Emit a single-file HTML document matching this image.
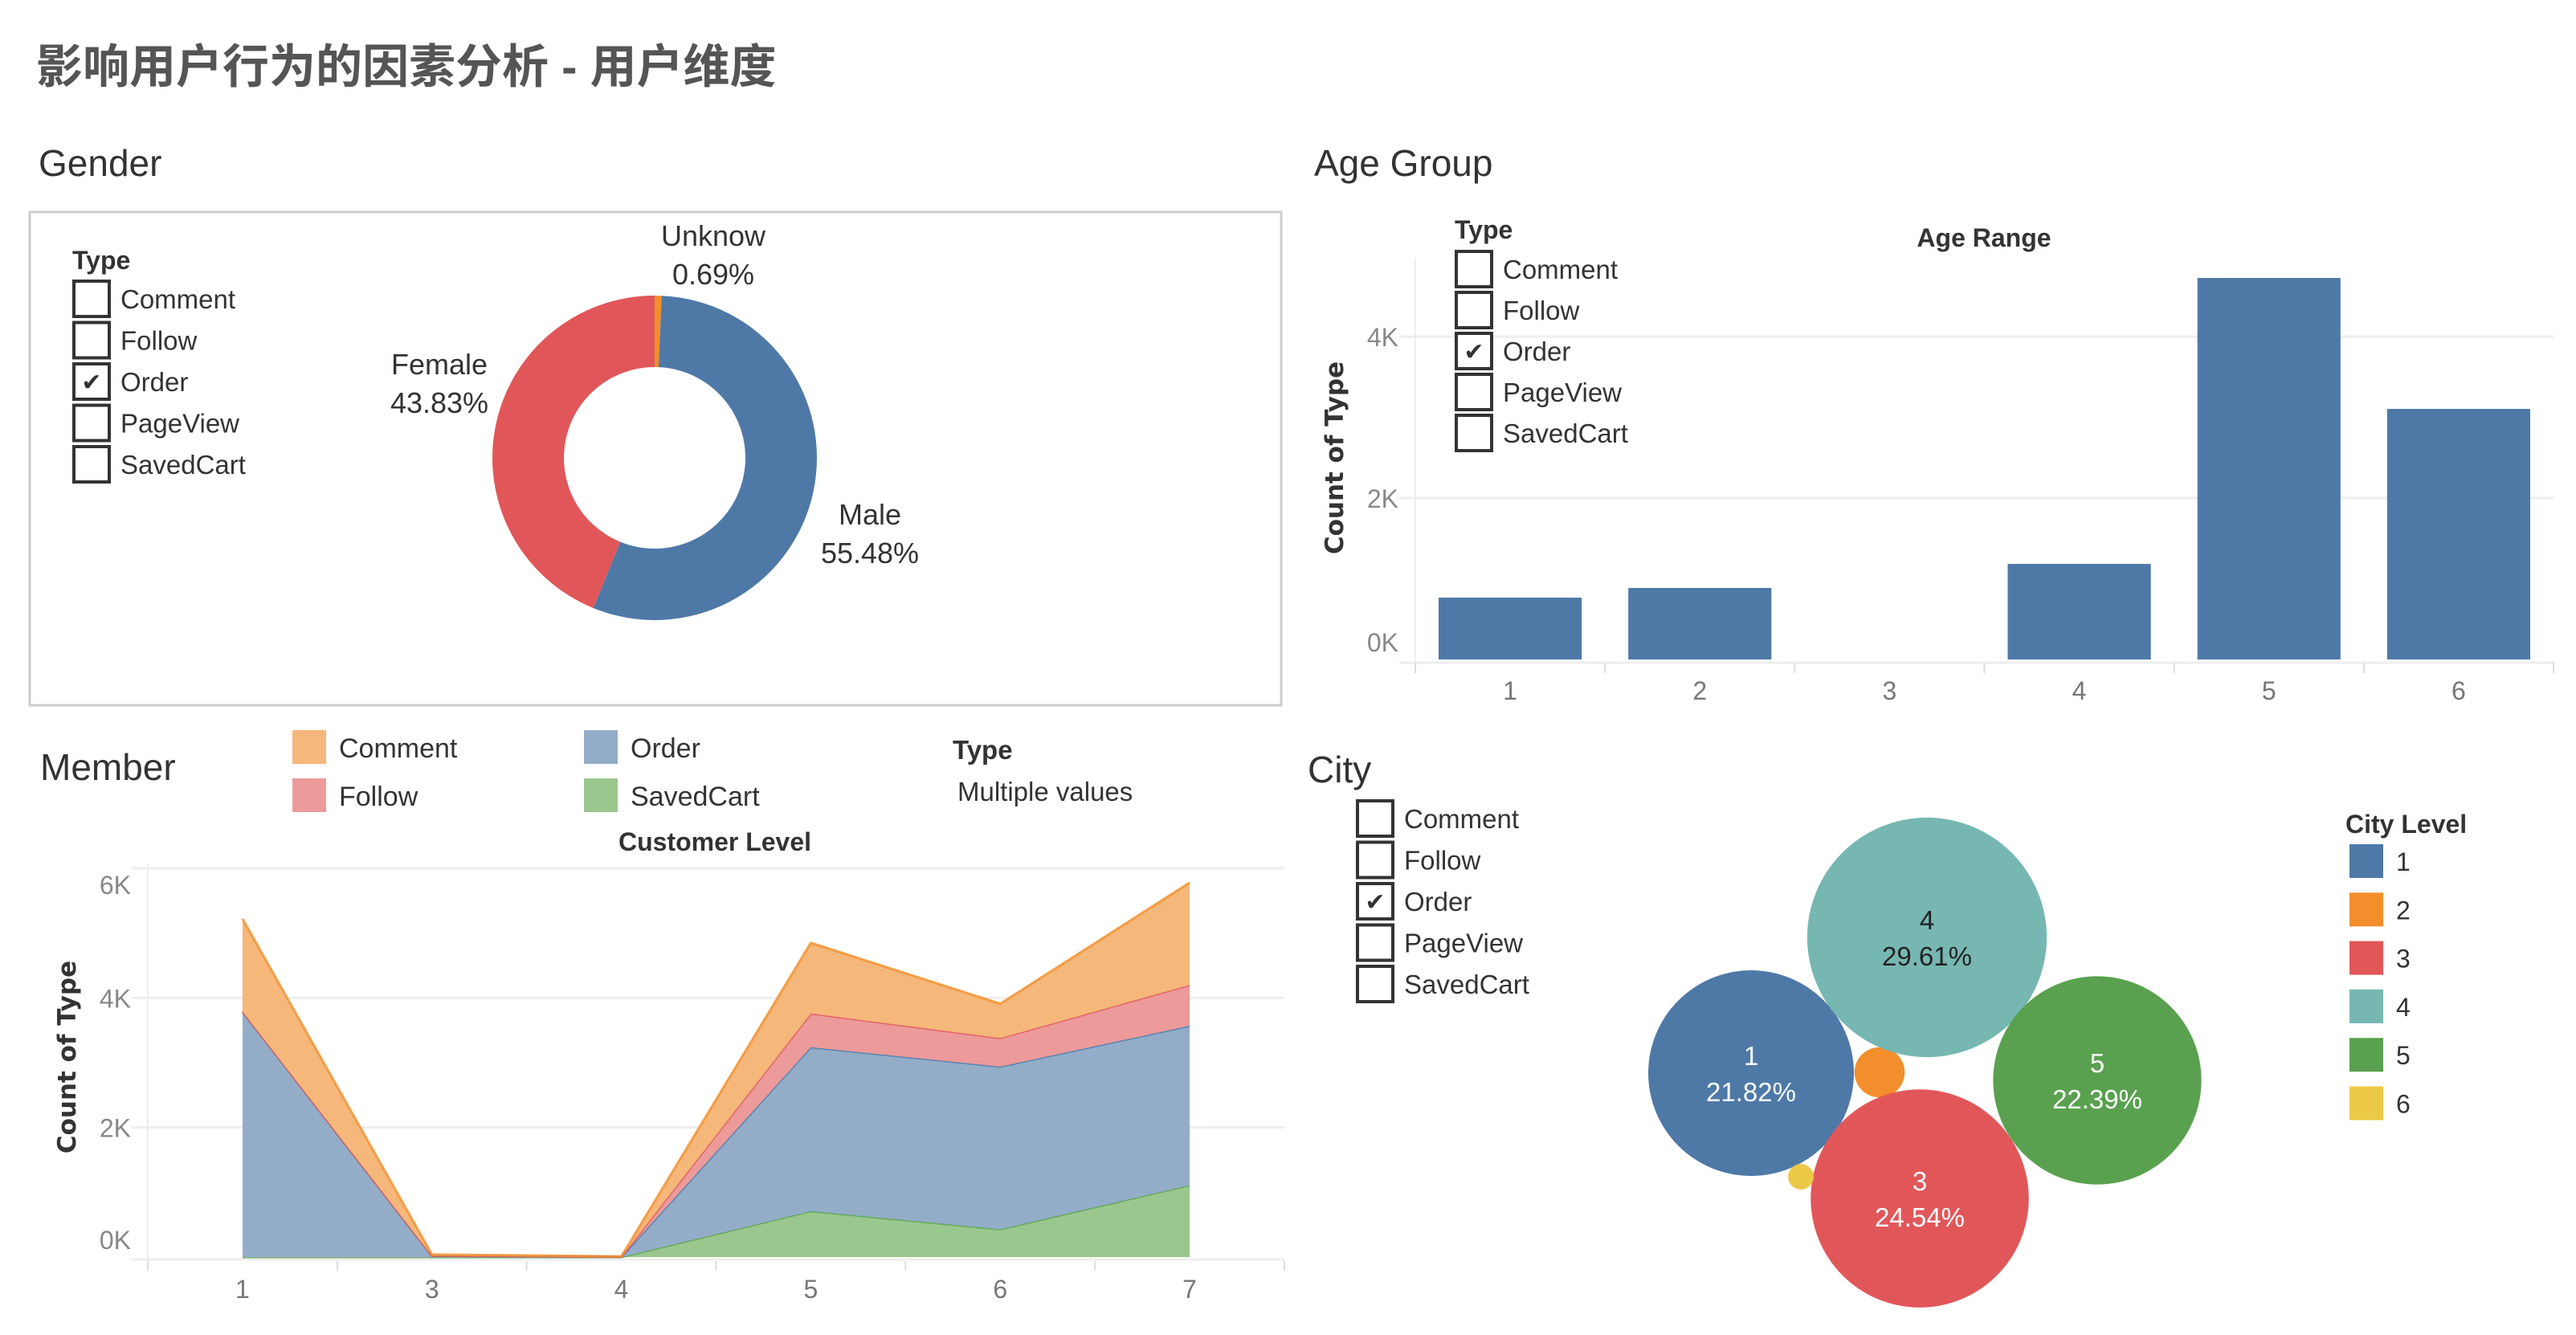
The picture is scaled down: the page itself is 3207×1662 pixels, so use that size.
<!DOCTYPE html>
<html><head><meta charset="utf-8">
<style>
html,body{margin:0;padding:0;background:#fff;}
svg{display:block;font-family:"Liberation Sans","Noto Sans CJK SC",sans-serif;}
</style></head>
<body>
<svg id="root" width="3207" height="1662" viewBox="0 0 3207 1662" xmlns="http://www.w3.org/2000/svg">
<text x="45" y="103" font-size="58" font-weight="bold" fill="#555" font-family="'Liberation Sans','Noto Sans CJK SC',sans-serif">影响用户行为的因素分析 - 用户维度</text>

<text x="48" y="219" font-size="46" fill="#333">Gender</text>
<rect x="37" y="264" width="1558" height="614" fill="none" stroke="#ccc" stroke-width="3"/>
<g id="gender"></g>

<text x="1636" y="219" font-size="46" fill="#333">Age Group</text>
<g id="age"></g>

<text x="50" y="971" font-size="46" fill="#333">Member</text>
<g id="member"></g>

<text x="1628" y="974" font-size="46" fill="#333">City</text>
<g id="city"></g>
</svg>
<script>
// ---------- data ----------
const typeNames = ["Comment","Follow","Order","PageView","SavedCart"];
const typeChecked = [false,false,true,false,false];

const genderCats = ["Unknow","Male","Female"];
const genderPct = [0.69,55.48,43.83];

const ageCats = ["1","2","3","4","5","6"];
const ageValues = [766,886,0,1184,4726,3104];
const ageTicks = [0,2000,4000];
const ageTickLabels = ["0K","2K","4K"];

const memberCats = ["1","3","4","5","6","7"];
const memberSaved = [0,0,0,710,430,1110];
const memberOrder = [3790,20,5,2530,2510,2460];
const memberFollow = [0,0,0,520,440,630];
const memberComment = [1430,20,5,1090,530,1580];
const memberTicks = [0,2000,4000,6000];
const memberTickLabels = ["0K","2K","4K","6K"];

const cityCats = ["1","2","3","4","5","6"];
const cityPct = [21.82,1.3,24.54,29.61,22.39,0.34];

const NS="http://www.w3.org/2000/svg";
function mk(tag,attrs,parent,text){const e=document.createElementNS(NS,tag);for(const k in attrs)e.setAttribute(k,attrs[k]);if(text!==undefined)e.textContent=text;parent.appendChild(e);return e;}

function checkList(parent,x,y0,step,prefix){
  typeNames.forEach((n,i)=>{
    const y=y0+i*step;
    const b=mk('rect',{x:x,y:y,width:44,height:44,fill:'#fff',stroke:'#333','stroke-width':4},parent);
    
    
    if(typeChecked[i]){
      const c=mk('text',{x:x+22,y:y+33,'font-size':30,'text-anchor':'middle',fill:'#333','font-family':'DejaVu Sans,sans-serif'},parent,'✔');
      
      
    }
    const t=mk('text',{x:x+58,y:y+34,'font-size':33,fill:'#333'},parent,n);
    
    
  });
}

// ---------- Gender ----------
(function(){
  const g=document.getElementById('gender');
  const tt=mk('text',{x:90,y:335,'font-size':32,'font-weight':'bold',fill:'#333'},g,'Type');
  
  
  checkList(g,92,350,51.5,'gender');
  const cx=815,cy=570,R=202,r=113;
  const cols=['#F28E2B','#4E79A7','#E15759'];
  const total=genderPct.reduce((a,b)=>a+b,0);
  let a0=0;
  genderPct.forEach((v,i)=>{
    const a1=a0+v/total*2*Math.PI;
    const p=(a,rr)=>[cx+rr*Math.sin(a),cy-rr*Math.cos(a)];
    const large=(a1-a0)>Math.PI?1:0;
    const [x1,y1]=p(a0,R),[x2,y2]=p(a1,R),[x3,y3]=p(a1,r),[x4,y4]=p(a0,r);
    const s=mk('path',{d:`M${x1},${y1}A${R},${R} 0 ${large} 1 ${x2},${y2}L${x3},${y3}A${r},${r} 0 ${large} 0 ${x4},${y4}Z`,fill:cols[i]},g);
    
    
    a0=a1;
  });
  const lab=[[888,294],[1083,641],[547,454]];
  genderCats.forEach((c,i)=>{
    const t1=mk('text',{x:lab[i][0],y:lab[i][1]+12,'font-size':36,'text-anchor':'middle',fill:'#333'},g,c);
    
    
    const t2=mk('text',{x:lab[i][0],y:lab[i][1]+60,'font-size':36,'text-anchor':'middle',fill:'#333'},g,genderPct[i].toFixed(2)+'%');
    
    
  });
})();

// ---------- Age ----------
(function(){
  const g=document.getElementById('age');
  const L=1762,Rr=3179,base=821,top=321;
  const y=v=>base-v*(201/2000);
  const band=(Rr-L)/ageCats.length;
  ageTicks.forEach((v,i)=>{
    if(v>0){const gl=mk('line',{x1:L-20,x2:Rr,y1:y(v),y2:y(v),stroke:'#eee','stroke-width':3},g);
    
    }
    const t=mk('text',{x:1741,y:(v==0?y(v)-10:y(v)+12),'font-size':32,'text-anchor':'end',fill:'#888'},g,ageTickLabels[i]);
    
    
  });
  const ax=mk('line',{x1:L,x2:L,y1:top,y2:base+15,stroke:'#eee','stroke-width':2},g);
  
  
  const bl=mk('line',{x1:L-20,x2:Rr,y1:base+4,y2:base+4,stroke:'#eee','stroke-width':3},g);
  
  
  for(let i=0;i<=ageCats.length;i++){
    const tk=mk('line',{x1:L+i*band,x2:L+i*band,y1:825,y2:838,stroke:'#ddd','stroke-width':2},g);
    
    
  }
  ageCats.forEach((c,i)=>{
    const x0=L+i*band+29;
    if(ageValues[i]>0){
      const b=mk('rect',{x:x0,y:y(ageValues[i]),width:band-58,height:base-y(ageValues[i]),fill:'#4E79A7'},g);
      
      
    }
    const t=mk('text',{x:L+(i+0.5)*band,y:871,'font-size':32,'text-anchor':'middle',fill:'#777'},g,c);
    
    
  });
  const yt=mk('text',{transform:'translate(1672,570) rotate(-90)','font-size':31,'font-weight':'bold','text-anchor':'middle',fill:'#333','font-family':'DejaVu Sans,sans-serif'},g,'Count of Type');
  
  
  const xt=mk('text',{x:2470,y:307,'font-size':32,'font-weight':'bold','text-anchor':'middle',fill:'#333'},g,'Age Range');
  
  
  const tt=mk('text',{x:1811,y:297,'font-size':32,'font-weight':'bold',fill:'#333'},g,'Type');
  
  
  checkList(g,1813,313,51,'age');
})();

// ---------- Member ----------
(function(){
  const g=document.getElementById('member');
  const L=184,Rr=1599,base=1565;
  const y=v=>base-v*(484/6000);
  const band=(Rr-L)/memberCats.length;
  const xc=i=>L+(i+0.5)*band;
  memberTicks.forEach((v,i)=>{
    if(v>0){const gl=mk('line',{x1:L-20,x2:Rr,y1:y(v),y2:y(v),stroke:'#eee','stroke-width':3},g);
    
    }
    const ly=v==0?y(v)-10:(v==6000?y(v)+32:y(v)+12);
    const t=mk('text',{x:163,y:ly,'font-size':32,'text-anchor':'end',fill:'#888'},g,memberTickLabels[i]);
    
    
  });
  const ax=mk('line',{x1:L,x2:L,y1:1075,y2:base+10,stroke:'#eee','stroke-width':2},g);
  
  
  const bl=mk('line',{x1:L-20,x2:Rr,y1:base+3,y2:base+3,stroke:'#eee','stroke-width':3},g);
  
  
  for(let i=0;i<=memberCats.length;i++){
    const tk=mk('line',{x1:L+i*band,x2:L+i*band,y1:1570,y2:1582,stroke:'#ddd','stroke-width':2},g);
    
    
  }
  const series=[memberSaved,memberOrder,memberFollow,memberComment];
  const sNames=['savedcart','order','follow','comment'];
  const fills=['#9AC78E','#93ADC9','#EC9A9A','#F5B77A'];
  const strokes=['#59A14F','#4E79A7','#E15759','#F28E2B'];
  let lower=memberCats.map(()=>0);
  series.forEach((s,k)=>{
    const upper=lower.map((v,i)=>v+s[i]);
    let d='M'+memberCats.map((c,i)=>xc(i)+','+y(upper[i])).join('L');
    for(let i=memberCats.length-1;i>=0;i--)d+='L'+xc(i)+','+y(lower[i]);
    d+='Z';
    const a=mk('path',{d:d,fill:fills[k],stroke:'none'},g);
    
    
    const ln=mk('polyline',{points:memberCats.map((c,i)=>xc(i)+','+y(upper[i])).join(' '),fill:'none',stroke:strokes[k],'stroke-width':3,'stroke-opacity':0.8},g);
    
    
    lower=upper;
  });
  memberCats.forEach((c,i)=>{
    const t=mk('text',{x:xc(i),y:1616,'font-size':32,'text-anchor':'middle',fill:'#777'},g,c);
    
    
  });
  const yt=mk('text',{transform:'translate(94,1316) rotate(-90)','font-size':31,'font-weight':'bold','text-anchor':'middle',fill:'#333','font-family':'DejaVu Sans,sans-serif'},g,'Count of Type');
  
  
  const xt=mk('text',{x:890,y:1059,'font-size':32,'font-weight':'bold','text-anchor':'middle',fill:'#333'},g,'Customer Level');
  
  
  const leg=[['Comment',364,909,'#F5B77A'],['Follow',364,969,'#EC9A9A'],['Order',727,909,'#93ADC9'],['SavedCart',727,969,'#9AC78E']];
  leg.forEach(l=>{
    const sw=mk('rect',{x:l[1],y:l[2],width:42,height:42,fill:l[3]},g);
    
    
    const t=mk('text',{x:l[1]+58,y:l[2]+34,'font-size':34,fill:'#333'},g,l[0]);
    
    
  });
  const tt=mk('text',{x:1186,y:945,'font-size':33,'font-weight':'bold',fill:'#333'},g,'Type');
  
  
  const mv=mk('text',{x:1192,y:997,'font-size':33,fill:'#333'},g,'Multiple values');
  
  
})();

// ---------- City ----------
(function(){
  const g=document.getElementById('city');
  checkList(g,1690,997,51.5,'city');
  const cols=['#4E79A7','#F28E2B','#E15759','#76B7B2','#59A14F','#EDC948'];
  const layout=[[2180,1336],[2340,1335],[2390,1492],[2399,1167],[2611,1345],[2242,1465]];
  const k=27.4;
  cityCats.forEach((c,i)=>{
    const rr=k*Math.sqrt(cityPct[i]);
    const b=mk('circle',{cx:layout[i][0],cy:layout[i][1],r:rr,fill:cols[i]},g);
    
    
    if(cityPct[i]>5){
      const fc=c==='4'?'#222':'#fff';
      const t1=mk('text',{x:layout[i][0],y:layout[i][1]-10,'font-size':33,'text-anchor':'middle',fill:fc},g,c);
      
      
      const t2=mk('text',{x:layout[i][0],y:layout[i][1]+35,'font-size':33,'text-anchor':'middle',fill:fc},g,cityPct[i].toFixed(2)+'%');
      
      
    }
    const sw=mk('rect',{x:2925,y:1051+i*60.3,width:42,height:42,fill:cols[i]},g);
    
    
    const t=mk('text',{x:2983,y:1084+i*60.3,'font-size':32,fill:'#333'},g,c);
    
    
  });
  const lt=mk('text',{x:2920,y:1037,'font-size':32,'font-weight':'bold',fill:'#333'},g,'City Level');
  
  
})();
</script>
</body></html>
